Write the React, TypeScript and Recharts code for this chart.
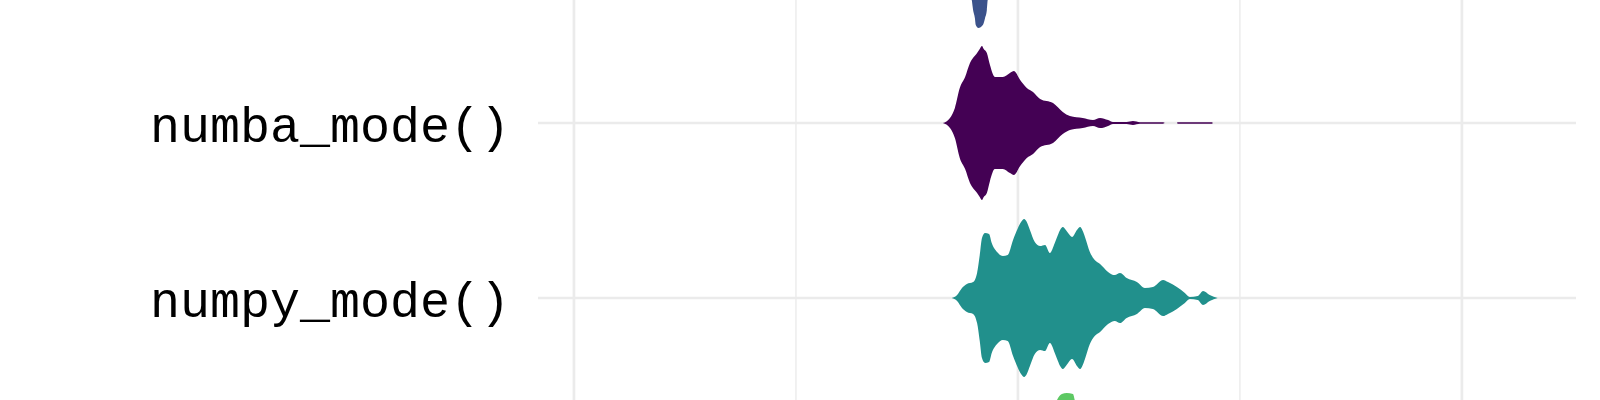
import React from 'react';
import { ComposedChart, Area, XAxis, YAxis, CartesianGrid } from 'recharts';

// categories (y position = index value, bottom to top)
const categories = ['', 'numpy_mode()', 'numba_mode()', ''];
const categoryPos = [1, 2, 3, 4];
const labelTicks = [2, 3];
const colors = ['#5DC863', '#21908C', '#440154', '#3B528B'];

// x gridlines
const majorTicks = [10, 20, 30];
const minorTicks = [15, 25];
const xDomain = [9.19, 32.57];
const yDomain = [1.417, 3.703];

// violin outlines: sample positions and half widths (in category units)
const greenX = [19.59, 20.27, 20.72, 20.88, 20.99, 21.1, 21.24, 21.28, 21.51, 22.07, 22.97, 24.1];
const greenHW = [0, 0.114, 0.286, 0.417, 0.451, 0.457, 0.451, 0.417, 0.314, 0.171, 0.057, 0];

const numpyX = [
  18.51, 18.63, 18.74, 18.85, 18.99, 19.08, 19.14, 19.19, 19.26, 19.35, 19.41, 19.53, 19.66, 19.77, 19.89,
  20.0, 20.07, 20.14, 20.2, 20.27, 20.38, 20.5, 20.61, 20.72, 20.83, 20.9, 20.95, 21.01, 21.08, 21.13,
  21.22, 21.33, 21.4, 21.46, 21.51, 21.62, 21.73, 21.85, 22.03, 22.18, 22.3, 22.45, 22.68, 22.86, 23.04,
  23.27, 23.38, 23.58, 23.76, 23.87, 24.05, 24.17, 24.32, 24.5,
];
const numpyHW = [
  0, 0.017, 0.057, 0.08, 0.091, 0.143, 0.246, 0.343, 0.371, 0.366, 0.314, 0.263, 0.24, 0.246, 0.331,
  0.4, 0.434, 0.451, 0.434, 0.389, 0.32, 0.297, 0.303, 0.257, 0.314, 0.36, 0.389, 0.406, 0.389, 0.371,
  0.349, 0.389, 0.406, 0.383, 0.349, 0.263, 0.217, 0.194, 0.149, 0.131, 0.143, 0.114, 0.091, 0.057, 0.063,
  0.103, 0.091, 0.063, 0.029, 0.006, 0.011, 0.04, 0.017, 0,
];

const numbaX = [
  18.31, 18.47, 18.58, 18.69, 18.81, 18.92, 19.08, 19.14, 19.19, 19.23, 19.3, 19.37, 19.48, 19.66, 19.82,
  19.91, 20.05, 20.2, 20.34, 20.5, 20.79, 21.01, 21.17, 21.46, 21.69, 21.85, 22.03, 22.14, 22.45, 22.59,
  22.75, 23.27, 23.31, 23.58, 23.6, 24.37, 24.39,
];
const numbaHW = [
  0, 0.029, 0.086, 0.2, 0.263, 0.343, 0.4, 0.423, 0.44, 0.423, 0.4, 0.331, 0.263, 0.263, 0.286,
  0.297, 0.246, 0.2, 0.177, 0.137, 0.114, 0.063, 0.04, 0.029, 0.017, 0.029, 0.017, 0.006, 0.006, 0.011,
  0.004, 0.004, 0, 0, 0.004, 0.004, 0,
];

const blueX = [18.47, 18.81, 18.92, 18.96, 18.99, 19.03, 19.05, 19.11, 19.21, 19.26, 19.3, 19.32, 19.41, 19.59, 20.05, 20.95, 21.85, 22.97];
const blueHW = [0, 0.171, 0.257, 0.297, 0.354, 0.4, 0.44, 0.457, 0.44, 0.4, 0.354, 0.297, 0.257, 0.229, 0.171, 0.086, 0.029, 0];

const violins = [
  { x: greenX, hw: greenHW },
  { x: numpyX, hw: numpyHW },
  { x: numbaX, hw: numbaHW },
  { x: blueX, hw: blueHW },
];

const toPoints = (xs: number[], hws: number[], center: number) =>
  xs.map((x, i) => ({ x, range: [center - hws[i], center + hws[i]] }));

const CategoryTick = (props: any) => {
  const { y, payload } = props;
  const idx = categoryPos.indexOf(payload.value);
  if (idx < 0) return null;
  return (
    <text x={510} y={y} dy={19} textAnchor="end" fontFamily="'Liberation Mono', monospace" fontSize={50} fill="#000">
      {categories[idx]}
    </text>
  );
};

const App = () => {
  return (
    <div style={{ position: 'fixed', top: 0, left: 0, width: 1600, height: 400, background: '#fff' }}>
      <ComposedChart width={1600} height={400} margin={{ top: 0, right: 24, bottom: 0, left: 0 }}>
        <CartesianGrid vertical={false} syncWithTicks stroke="#EBEBEB" strokeWidth={2.7} xAxisId="major" />
        <CartesianGrid horizontal={false} syncWithTicks stroke="#EBEBEB" strokeWidth={1.4} xAxisId="minor" />
        <CartesianGrid horizontal={false} syncWithTicks stroke="#EBEBEB" strokeWidth={2.7} xAxisId="major" />
        <XAxis xAxisId="major" type="number" dataKey="x" domain={xDomain} ticks={majorTicks} allowDataOverflow hide />
        <XAxis xAxisId="minor" type="number" dataKey="x" domain={xDomain} ticks={minorTicks} allowDataOverflow hide />
        <YAxis
          type="number"
          domain={yDomain}
          allowDataOverflow
          ticks={labelTicks}
          width={538}
          axisLine={false}
          tickLine={false}
          tick={<CategoryTick />}
        />
        {violins.map((v, i) => (
          <Area
            key={i}
            xAxisId="major"
            data={toPoints(v.x, v.hw, categoryPos[i])}
            dataKey="range"
            type="monotone"
            stroke="none"
            fill={colors[i]}
            fillOpacity={1}
            dot={false}
            activeDot={false}
            isAnimationActive={false}
          />
        ))}
      </ComposedChart>
    </div>
  );
};

export default App;
